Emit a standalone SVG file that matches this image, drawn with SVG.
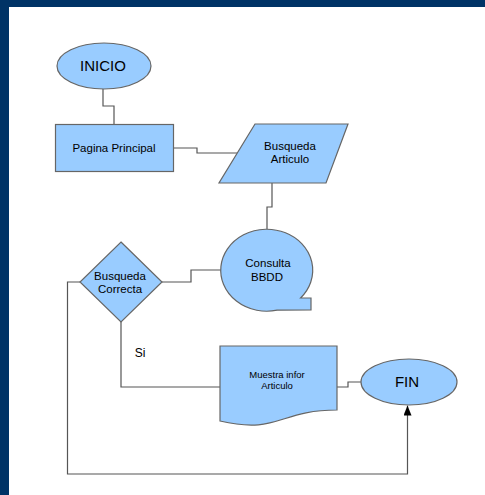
<svg xmlns="http://www.w3.org/2000/svg" width="485" height="495" viewBox="0 0 485 495">
<defs>
<marker id="arr" viewBox="0 0 10 8" refX="10" refY="4" markerWidth="10" markerHeight="8" markerUnits="userSpaceOnUse" orient="auto">
<path d="M0,0 L10,4 L0,8 Z" fill="#000"/>
</marker>
</defs>
<style>
.shape{fill:#99ccff;stroke:#666;stroke-width:1.2}
.conn{fill:none;stroke:#555;stroke-width:1.2}
text{font-family:"Liberation Sans",Arial,sans-serif;fill:#000;text-anchor:middle}
.big{font-size:15px}
.mid{font-size:11.5px}
.sm{font-size:9.5px}
</style>
<rect x="0" y="0" width="485" height="495" fill="#fff"/>
<rect x="0" y="0" width="485" height="7" fill="#003366"/>
<rect x="0" y="0" width="9" height="495" fill="#003366"/>
<g id="connectors">
<path class="conn" d="M103,89 V106 H114 V124"/>
<path class="conn" d="M173,148 H197 V153 H238"/>
<path class="conn" d="M272,183 V207 H267 V229"/>
<path class="conn" d="M221,270 H191 V282 H162"/>
<path class="conn" d="M121,322 V387 H220"/>
<path class="conn" d="M337,387 H348 V382 H361"/>
<path class="conn" d="M80,282 H67.5 V474 H407.5 V405.5" marker-end="url(#arr)"/>
</g>
<g id="inicio">
<ellipse class="shape" cx="104" cy="66" rx="47" ry="23"/>
<text class="big" x="103" y="71">INICIO</text>
</g>
<g id="pagina-principal">
<rect class="shape" x="55.5" y="124.5" width="118" height="47"/>
<text class="mid" x="114" y="152">Pagina Principal</text>
</g>
<g id="busqueda-articulo">
<polygon class="shape" points="255,124 348,124 326,183 219,183"/>
<text class="mid" x="290" y="150">Busqueda</text>
<text class="mid" x="290" y="163">Articulo</text>
</g>
<g id="consulta-bbdd">
<path class="shape" d="M300.6,298 L311,298 L311,310 L277.1,310.2 A46,41 0 1 1 300.6,298 Z"/>
<text class="mid" x="268" y="267">Consulta</text>
<text class="mid" x="267" y="281">BBDD</text>
</g>
<g id="busqueda-correcta">
<polygon class="shape" points="121,242 162,282 121,322 80,282"/>
<text class="mid" x="120" y="280">Busqueda</text>
<text class="mid" x="120" y="293">Correcta</text>
</g>
<g id="label-si">
<text x="140" y="357" style="font-size:12px">Si</text>
</g>
<g id="muestra-infor">
<path class="shape" d="M220,346 H337 V410 C278.5,410 278.5,434.6 220,421 Z"/>
<text class="sm" x="277" y="378">Muestra infor</text>
<text class="sm" x="277" y="389">Articulo</text>
</g>
<g id="fin">
<ellipse class="shape" cx="409" cy="382" rx="48" ry="23"/>
<text class="big" x="407" y="387">FIN</text>
</g>
</svg>
